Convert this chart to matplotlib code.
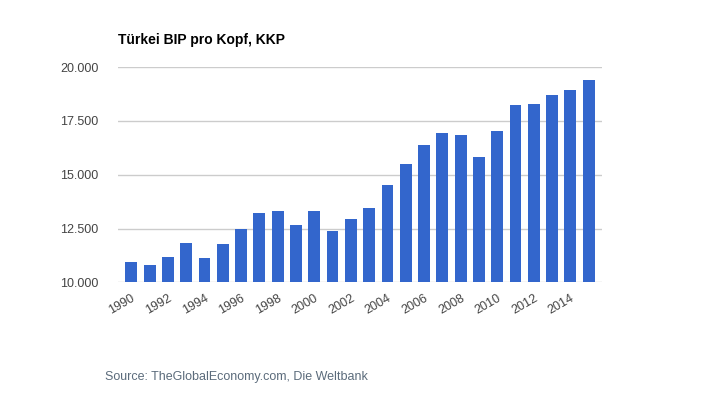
import numpy as np
import matplotlib.pyplot as plt
from matplotlib.ticker import FuncFormatter

plt.rcParams['font.family'] = ['Liberation Sans', 'DejaVu Sans']

years = list(range(1990, 2016))
gdp_pc = [10940, 10800, 11180, 11830, 11130, 11780, 12480, 13220, 13320, 12660,
          13320, 12390, 12940, 13460, 14520, 15500, 16380, 16940, 16850, 15830,
          17040, 18240, 18290, 18710, 18940, 19410]
y_ticks = [10000, 12500, 15000, 17500, 20000]

fig = plt.figure(figsize=(7.2, 4), dpi=100)
ax = fig.add_axes([0.164, 0.294, 0.672, 0.538])

x = np.arange(len(years))
ax.bar(x, gdp_pc, width=0.65, color='#3366cc', zorder=3)

ax.set_ylim(10000, 20000)
ax.set_xlim(-0.72, len(years) - 0.28)
ax.set_yticks(y_ticks)
ax.yaxis.set_major_formatter(FuncFormatter(lambda v, p: f"{int(v):,}".replace(',', '.')))
ax.grid(axis='y', color='#cccccc', linewidth=1, zorder=0)

ax.set_xticks(x[::2])
ax.set_xticklabels([str(yr) for yr in years[::2]], rotation=30, ha='right',
                   rotation_mode='anchor')

for s in ax.spines.values():
    s.set_visible(False)
ax.tick_params(axis='both', length=0, labelsize=9, colors='#444444')
ax.tick_params(axis='y', pad=14)
ax.tick_params(axis='x', pad=7)

fig.text(118 / 720, 1 - 40 / 400, 'Türkei BIP pro Kopf, KKP', fontsize=10,
         fontweight='bold', va='center', ha='left', color='#000000')
fig.text(105 / 720, 1 - 377 / 400, 'Source: TheGlobalEconomy.com, Die Weltbank',
         fontsize=9, va='center', ha='left', color='#5b6b7b')

fig.savefig('out.png', dpi=100)
